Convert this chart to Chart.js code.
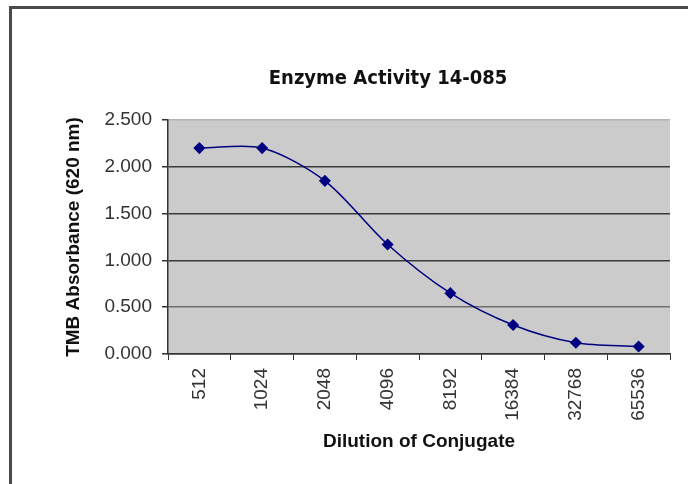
<!DOCTYPE html>
<html>
<head>
<meta charset="utf-8">
<script src="https://cdn.jsdelivr.net/npm/chart.js@4/dist/chart.umd.min.js"></script>
<style>
  body { margin: 0; background: #fff; overflow: hidden; }
  #wrap { position: relative; width: 688px; height: 484px; }
  #frame {
    position: absolute; left: 9px; top: 6px; width: 700px; height: 500px;
    border-left: 3px solid #4a4a4a; border-top: 3px solid #4a4a4a;
  }
  canvas { position: absolute; left: 0; top: 0; }
</style>
</head>
<body>
<div id="wrap">
  <div id="frame"></div>
  <canvas id="chart" width="688" height="484"></canvas>
</div>
<script>
// data
const dilutions = ["512", "1024", "2048", "4096", "8192", "16384", "32768", "65536"];
const absorbance = [2.20, 2.20, 1.85, 1.17, 0.65, 0.31, 0.12, 0.08];

const chartTitle = "Enzyme Activity 14-085";
const xTitle = "Dilution of Conjugate";
const yTitle = "TMB Absorbance (620 nm)";

// grey plot area + shift title a little to the right like the original
const plotBg = {
  id: "plotBg",
  beforeDraw(chart) {
    const a = chart.chartArea;
    const ctx = chart.ctx;
    ctx.save();
    ctx.fillStyle = "#cbcbcb";
    ctx.fillRect(a.left, a.top, a.right - a.left, a.bottom - a.top);
    ctx.restore();
  },
  afterLayout(chart) {
    if (chart.titleBlock) chart.titleBlock.left += 46;
  }
};

const ctx = document.getElementById("chart");

new Chart(ctx, {
  type: "line",
  data: {
    labels: dilutions,
    datasets: [{
      data: absorbance,
      borderColor: "#000080",
      backgroundColor: "#000080",
      borderWidth: 1.5,
      tension: 0.3,
      pointStyle: "rectRot",
      pointRadius: 5,
      pointHoverRadius: 5,
      fill: false
    }]
  },
  options: {
    responsive: false,
    animation: false,
    devicePixelRatio: 1,
    layout: { padding: { top: 56, left: 60, right: 18, bottom: 30 } },
    plugins: {
      legend: { display: false },
      tooltip: { enabled: false },
      title: {
        display: true,
        text: chartTitle,
        color: "#111",
        font: { family: "'Liberation Sans Narrow', 'Arial Narrow', 'DejaVu Sans Condensed', sans-serif", size: 20, weight: "bold" },
        padding: { top: 11, bottom: 29 }
      }
    },
    scales: {
      x: {
        offset: true,
        afterFit(scale) { scale.height = 100; },
        grid: {
          offset: true,
          drawOnChartArea: true,
          color: c => c.index === dilutions.length ? "#a8a8a8" : "rgba(0,0,0,0)",
          tickColor: "#333",
          tickLength: 6
        },
        border: { color: "#333", width: 1.5 },
        ticks: {
          minRotation: 90,
          maxRotation: 90,
          padding: 8,
          color: "#333",
          font: { family: "'Liberation Sans', Arial, sans-serif", size: 19 }
        },
        title: {
          display: true,
          text: xTitle,
          color: "#111",
          padding: { top: 0, bottom: 1 },
          font: { family: "'Liberation Sans', Arial, sans-serif", size: 19, weight: "bold" }
        }
      },
      y: {
        min: 0,
        max: 2.5,
        afterFit(scale) { scale.width = 108; },
        grid: {
          color: c => {
            const v = c.tick ? c.tick.value : 0;
            if (v >= 2.5) return "#b4b4b4";
            if (v === 0.5) return "#6e6e6e";
            return "#3a3a3a";
          },
          lineWidth: 1.5,
          tickColor: "#333",
          tickLength: 6
        },
        border: { color: "#333", width: 1.5 },
        ticks: {
          stepSize: 0.5,
          padding: 10,
          color: "#333",
          font: { family: "'Liberation Sans', Arial, sans-serif", size: 19 },
          callback: v => v.toFixed(3)
        },
        title: {
          display: true,
          text: yTitle,
          color: "#111",
          padding: { top: 2, bottom: 0 },
          font: { family: "'Liberation Sans', Arial, sans-serif", size: 19, weight: "bold" }
        }
      }
    }
  },
  plugins: [plotBg]
});
</script>
</body>
</html>
